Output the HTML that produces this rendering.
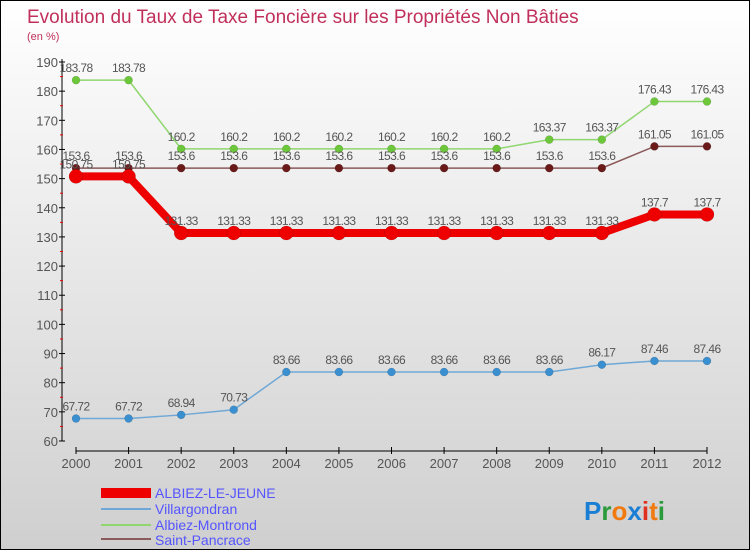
<!DOCTYPE html>
<html><head><meta charset="utf-8"><style>
body{margin:0}
#c{width:748px;height:548px;border:1px solid #000;background:linear-gradient(#ffffff,#cfcfcf);position:relative;font-family:"Liberation Sans",sans-serif;overflow:hidden}
svg text{font-family:"Liberation Sans",sans-serif}
</style></head><body>
<div id="c">
<svg id="s" width="748" height="548">
<text x="26" y="22" font-size="19" fill="#c0305a">Evolution du Taux de Taxe Foncière sur les Propriétés Non Bâties</text>
<text x="26" y="39" font-size="11" fill="#c0305a">(en %)</text>
<g>
<rect x="100" y="487" width="50" height="10" fill="#e00"/>
<text x="154" y="497" font-size="14" fill="#5555ff">ALBIEZ-LE-JEUNE</text>
<rect x="100" y="507" width="50" height="2" fill="#6fa8d6"/>
<text x="154" y="513" font-size="14" fill="#5555ff">Villargondran</text>
<rect x="100" y="523" width="50" height="2" fill="#8fd66f"/>
<text x="154" y="529" font-size="14" fill="#5555ff">Albiez-Montrond</text>
<rect x="100" y="537" width="50" height="2" fill="#8b5a5a"/>
<text x="154" y="544" font-size="14" fill="#5555ff">Saint-Pancrace</text>
</g>
<text x="583" y="519" font-size="26" font-weight="bold"><tspan fill="#1a7fd4">P</tspan><tspan fill="#2a9a3a">r</tspan><tspan fill="#f07a10">o</tspan><tspan fill="#1a7fd4">x</tspan><tspan fill="#e03020">i</tspan><tspan fill="#f07a10">t</tspan><tspan fill="#2a9a3a">i</tspan></text>
</svg>
</div>
<script>
const years=["2000","2001","2002","2003","2004","2005","2006","2007","2008","2009","2010","2011","2012"];
const yTicks=[60,70,80,90,100,110,120,130,140,150,160,170,180,190];
const albiezJeune=[150.75,150.75,131.33,131.33,131.33,131.33,131.33,131.33,131.33,131.33,131.33,137.7,137.7];
const villargondran=[67.72,67.72,68.94,70.73,83.66,83.66,83.66,83.66,83.66,83.66,86.17,87.46,87.46];
const albiezMontrond=[183.78,183.78,160.2,160.2,160.2,160.2,160.2,160.2,160.2,163.37,163.37,176.43,176.43];
const saintPancrace=[153.6,153.6,153.6,153.6,153.6,153.6,153.6,153.6,153.6,153.6,153.6,161.05,161.05];
const NS="http://www.w3.org/2000/svg",s=document.getElementById('s');
const X=i=>75+i*(706-75)/(years.length-1);
const Y=v=>440-(v-60)*(440-61)/130;
function el(t,a,p){const e=document.createElementNS(NS,t);for(const k in a)e.setAttribute(k,a[k]);(p||s).appendChild(e);return e;}
const ax=el('g',{});


el('line',{x1:61,y1:58,x2:61,y2:440,stroke:'#000','stroke-width':1},ax);
el('line',{x1:75,y1:450,x2:706,y2:450,stroke:'#000','stroke-width':1},ax);
yTicks.forEach(v=>{const y=Y(v);
el('line',{x1:58,y1:y,x2:64,y2:y,stroke:'#000'},ax);
if(v<190)el('line',{x1:59,y1:Y(v+5),x2:62,y2:Y(v+5),stroke:'#e00'},ax);
const t=el('text',{x:57,y:y+5,'font-size':13,fill:'#555','text-anchor':'end'},ax);t.textContent=v;

});
years.forEach((yr,i)=>{const x=X(i);
el('line',{x1:x,y1:446,x2:x,y2:453,stroke:'#000'},ax);
const t=el('text',{x:x,y:467,'font-size':13,fill:'#555','text-anchor':'middle'},ax);t.textContent=yr;

});
function series(name,data,color,w,r,dot){
const g=el('g',{});


el('polyline',{points:data.map((v,i)=>X(i)+','+Y(v)).join(' '),fill:'none',stroke:color,'stroke-width':w,'stroke-linejoin':'round'},g);
data.forEach((v,i)=>{const c=el('circle',{cx:X(i),cy:Y(v),r:r,fill:dot,stroke:'#0003','stroke-width':0.5},g);


const t=el('text',{x:X(i),y:Y(v)-8,'font-size':12,fill:'#555','text-anchor':'middle','letter-spacing':'-0.6'},g);t.textContent=v;

});}
series('villargondran',villargondran,'#6fa8d6',1.5,4,'#3a8fd0');
series('albiez-montrond',albiezMontrond,'#8fd66f',1.5,4,'#6cc83a');
series('saint-pancrace',saintPancrace,'#8b5a5a',1.5,4,'#6b1a1a');
series('albiez-le-jeune',albiezJeune,'#ee0000',8,7,'#ee0000');
</script>
</body></html>
